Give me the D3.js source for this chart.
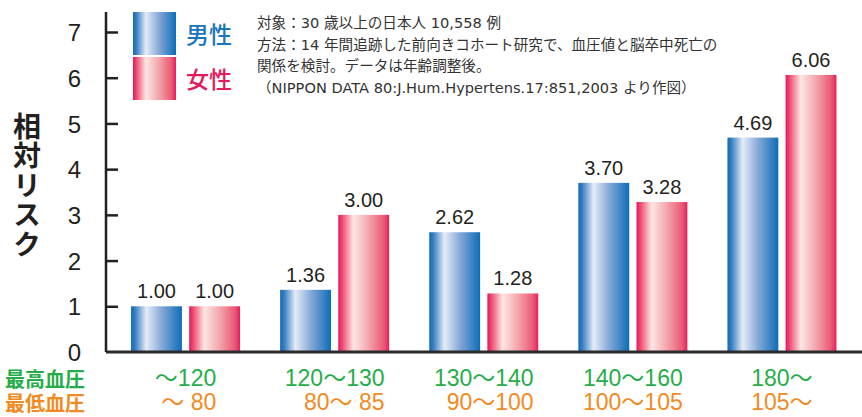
<!DOCTYPE html>
<html>
<head>
<meta charset="utf-8">
<script src="https://cdn.jsdelivr.net/npm/d3@7"></script>
<style>
  body { margin: 0; background: #fff; }
  svg { display: block; }
</style>
</head>
<body>
<svg id="chart" width="862" height="417"></svg>
<script>
// data
const sbpLabels = ["〜120", "120〜130", "130〜140", "140〜160", "180〜"];
const dbpLabels = ["〜 80", "80〜 85", "90〜100", "100〜105", "105〜"];
const menRisk = [1.00, 1.36, 2.62, 3.70, 4.69];
const womenRisk = [1.00, 3.00, 1.28, 3.28, 6.06];
const sexes = ["男性", "女性"];
const yTicks = [0, 1, 2, 3, 4, 5, 6, 7];
const noteLines = [
  "対象：30 歳以上の日本人 10,558 例",
  "方法：14 年間追跡した前向きコホート研究で、血圧値と脳卒中死亡の",
  "関係を検討。データは年齢調整後。",
  "（NIPPON DATA 80:J.Hum.Hypertens.17:851,2003 より作図）"
];

const numFont = "'Liberation Sans', Arial, 'Noto Sans CJK JP', sans-serif";
const jpFont = "'Noto Sans CJK JP', sans-serif";
const noteFont = "'DejaVu Sans', 'Noto Sans CJK JP', sans-serif";

const svg = d3.select("#chart");
const axisX = 106, baseY = 352, topY = 32;

const y = d3.scaleLinear().domain([0, 7]).range([baseY, topY]);
// outer padding = half the inner padding so the step is 149px and bars start at 131
const x = d3.scaleBand().domain(d3.range(sbpLabels.length))
  .range([111, 856.5]).paddingInner(0.269).paddingOuter(0.1345);
const xs = d3.scaleBand().domain([0, 1]).range([0, x.bandwidth()]).paddingInner(0.125);

// gradients for the bars
const defs = svg.append("defs");
const grads = {
  blue: [[0, "#0f6ab4"], [0.08, "#3a7fc2"], [0.3, "#e4ecf7"], [0.6, "#86a9d7"], [0.9, "#2c7bc0"], [1, "#0b6fb8"]],
  pink: [[0, "#e6165a"], [0.08, "#ee4c70"], [0.3, "#fde6e4"], [0.6, "#f3a5ab"], [0.9, "#ea5875"], [1, "#e61d5c"]]
};
Object.keys(grads).forEach(k => {
  const g = defs.append("linearGradient").attr("id", "g-" + k)
    .attr("x1", 0).attr("x2", 1).attr("y1", 0).attr("y2", 0);
  grads[k].forEach(s => g.append("stop").attr("offset", s[0]).attr("stop-color", s[1]));
});
const fills = ["url(#g-blue)", "url(#g-pink)"];
const textCols = ["#1b75bb", "#e5195b"];

// y axis, ticks pointing inward
const yAxis = d3.axisLeft(y).tickValues(yTicks).tickSize(-12).tickPadding(25)
  .tickFormat(d3.format("d"));
const gy = svg.append("g").attr("transform", `translate(${axisX},0)`).call(yAxis);
gy.select(".domain").remove();
gy.selectAll(".tick line").attr("stroke", "#231f20").attr("stroke-width", 2.5);
gy.selectAll(".tick text").attr("font-family", numFont).attr("font-size", 24)
  .attr("fill", "#231f20").attr("dy", "0.36em");
gy.selectAll(".tick").filter(d => d === 0).select("line").remove();

// bars
const rows = sbpLabels.map((l, i) => [menRisk[i], womenRisk[i]]);
const groups = svg.append("g").selectAll("g").data(rows).enter().append("g")
  .attr("transform", (d, i) => `translate(${x(i)},0)`);

groups.selectAll("rect").data(d => d).enter().append("rect")
  .attr("x", (d, j) => xs(j))
  .attr("width", xs.bandwidth())
  .attr("y", d => y(d))
  .attr("height", d => baseY - y(d))
  .attr("fill", (d, j) => fills[j]);

groups.selectAll("text").data(d => d).enter().append("text")
  .attr("x", (d, j) => xs(j) + xs.bandwidth() / 2)
  .attr("y", d => y(d) - 8)
  .attr("text-anchor", "middle")
  .attr("font-family", numFont).attr("font-size", 20).attr("fill", "#231f20")
  .text(d => d.toFixed(2));

// axis lines
svg.append("line").attr("x1", axisX).attr("x2", 862).attr("y1", baseY).attr("y2", baseY)
  .attr("stroke", "#2b2b2b").attr("stroke-width", 3);
svg.append("line").attr("x1", axisX).attr("x2", axisX).attr("y1", 12).attr("y2", baseY)
  .attr("stroke", "#231f20").attr("stroke-width", 2.5);

// category labels; the lower row is right aligned to the upper one
const sbpText = svg.append("g").selectAll("text").data(sbpLabels).enter().append("text")
  .attr("x", (d, i) => x(i) + x.bandwidth() / 2)
  .attr("y", 386)
  .attr("text-anchor", "middle")
  .attr("font-family", numFont).attr("font-size", 23).attr("fill", "#25ad4a")
  .text(d => d);
const widths = sbpText.nodes().map(n => n.getComputedTextLength());
svg.append("g").selectAll("text").data(dbpLabels).enter().append("text")
  .attr("x", (d, i) => x(i) + x.bandwidth() / 2 + widths[i] / 2)
  .attr("y", 410)
  .attr("text-anchor", "end")
  .attr("font-family", numFont).attr("font-size", 23).attr("fill", "#f18a22")
  .style("white-space", "pre")
  .text(d => d);

svg.append("text").attr("x", 5).attr("y", 387)
  .attr("font-family", jpFont).attr("font-weight", "bold").attr("font-size", 20)
  .attr("fill", "#25ad4a").text("最高血圧");
svg.append("text").attr("x", 5).attr("y", 411)
  .attr("font-family", jpFont).attr("font-weight", "bold").attr("font-size", 20)
  .attr("fill", "#f18a22").text("最低血圧");

// y title, vertical
svg.append("text").attr("x", 27).attr("y", 112)
  .style("writing-mode", "vertical-rl").style("text-orientation", "upright")
  .attr("font-family", jpFont).attr("font-weight", "bold").attr("font-size", 28)
  .attr("letter-spacing", 1.5)
  .attr("fill", "#231f20").text("相対リスク");

// legend
const leg = svg.append("g").selectAll("g").data(sexes).enter().append("g")
  .attr("transform", (d, i) => `translate(133,${12 + i * 45})`);
leg.append("rect").attr("width", 43).attr("height", 43).attr("fill", (d, i) => fills[i]);
leg.append("text").attr("x", 53).attr("y", 23).attr("dy", "0.35em")
  .attr("font-family", jpFont).attr("font-weight", 500).attr("font-size", 23)
  .attr("fill", (d, i) => textCols[i]).text(d => d);

// study note
svg.append("g").selectAll("text").data(noteLines).enter().append("text")
  .attr("x", 257).attr("y", (d, i) => 28 + i * 21.5)
  .attr("font-family", noteFont).attr("font-size", 14.6).attr("fill", "#333")
  .style("white-space", "pre")
  .text(d => d);
</script>
</body>
</html>
